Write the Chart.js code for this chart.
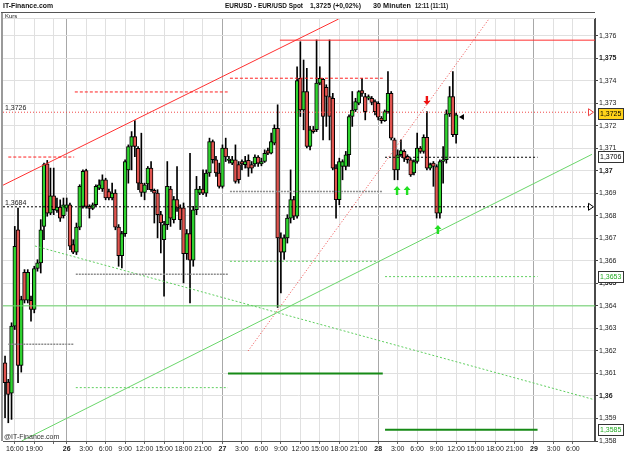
<!DOCTYPE html>
<html><head><meta charset="utf-8">
<script src="https://cdn.jsdelivr.net/npm/chart.js@4/dist/chart.umd.min.js"></script>
<style>html,body{margin:0;padding:0;background:#fff;}canvas{display:block;}</style>
</head><body>
<canvas id="c" width="625" height="455"></canvas>
<script>
// ---- data (half-hour index t, 0 = day 26 00:00) ----
const candleStart = -19;
const opens = [
1.36147,1.36062,1.36012,1.36310,1.36738,1.36136,1.36549,1.36425,1.36425,1.36384,
1.36566,1.36591,1.36753,1.37031,1.36812,1.36889,1.36824,1.36839,1.36801,1.36834,
1.36849,1.36672,1.36638,1.36750,1.36842,1.37001,1.36842,1.36833,1.36849,1.36923,
1.36919,1.36960,1.36908,1.36879,1.36901,1.36750,1.36623,1.36721,1.37004,1.37108,
1.37152,1.37100,1.36945,1.36904,1.36942,1.37012,1.36913,
1.36901,1.36805,1.36694,1.36761,1.36919,1.36783,1.36872,1.36835,1.36835,1.36632,
1.36721,1.36603,1.36827,1.36901,1.36919,1.36901,1.36990,1.37130,1.37049,1.36990,
1.36931,1.37101,1.37046,1.37034,1.37049,1.37027,1.37041,1.37027,1.37046,1.37027,
1.37031,1.37061,1.37031,1.37041,1.37090,1.37078,1.37123,1.37189,1.36702,1.36638,
1.36702,1.36790,1.36872,1.36798,1.37411,1.37270,1.37352,1.37108,
1.37182,1.37182,1.37389,1.37406,1.37371,1.37330,1.37322,1.37012,1.36872,1.37019,
1.37019,1.37071,1.37241,1.37270,1.37300,1.37356,1.37330,1.37322,1.37322,1.37307,
1.37300,1.37234,1.37223,1.37263,1.37344,1.37137,1.37004,1.37071,1.37086,1.37064,
1.37049,1.36990,1.37041,1.37101,1.37086,1.37149,1.37012,1.37034,1.37019,1.36812,
1.37041,1.37049,1.37253,1.37330,1.37160];
const highs = [
1.36177,1.36074,1.36325,1.36753,1.36834,1.36443,1.36561,1.36561,1.36443,1.36576,
1.36605,1.36783,1.37034,1.37046,1.37012,1.37012,1.36879,1.36871,1.36879,1.36879,
1.36857,1.36694,1.36768,1.36938,1.37004,1.37007,1.36849,1.36857,1.36938,1.36960,
1.36982,1.36967,1.36919,1.36945,1.36916,1.36761,1.36731,1.37049,1.37115,1.37174,
1.37223,1.37108,1.37167,1.36945,1.37019,1.37041,1.36919,
1.36916,1.36820,1.36775,1.37041,1.36931,1.36886,1.37019,1.36849,1.36857,1.36739,
1.37078,1.36842,1.36975,1.36931,1.37004,1.37004,1.37145,1.37137,1.37064,1.37034,
1.37115,1.37145,1.37064,1.37064,1.37115,1.37041,1.37049,1.37064,1.37071,1.37041,
1.37071,1.37067,1.37056,1.37093,1.37101,1.37167,1.37204,1.37293,1.36724,1.36716,
1.36805,1.37004,1.36886,1.37462,1.37573,1.37492,1.37455,1.37197,
1.37197,1.37581,1.37462,1.37411,1.37382,1.37581,1.37344,1.37027,1.37056,1.37049,
1.37086,1.37248,1.37352,1.37322,1.37356,1.37411,1.37344,1.37337,1.37330,1.37315,
1.37307,1.37241,1.37270,1.37440,1.37352,1.37145,1.37093,1.37137,1.37093,1.37071,
1.37056,1.37049,1.37167,1.37108,1.37160,1.37263,1.37034,1.37041,1.37027,1.37049,
1.37108,1.37270,1.37374,1.37440,1.37256];
const lows = [
1.35904,1.35881,1.35896,1.36295,1.36059,1.36106,1.36413,1.36413,1.36332,1.36369,
1.36554,1.36546,1.36694,1.36798,1.36805,1.36805,1.36815,1.36775,1.36790,1.36820,
1.36650,1.36632,1.36628,1.36738,1.36834,1.36834,1.36790,1.36827,1.36842,1.36916,
1.36908,1.36871,1.36871,1.36871,1.36738,1.36576,1.36569,1.36709,1.36945,1.37004,
1.37063,1.36916,1.36886,1.36871,1.36916,1.36908,1.36768,
1.36702,1.36635,1.36443,1.36739,1.36753,1.36768,1.36820,1.36739,1.36502,1.36606,
1.36413,1.36576,1.36805,1.36894,1.36894,1.36886,1.36975,1.37034,1.36975,1.36923,
1.36923,1.37041,1.37034,1.37027,1.36945,1.36945,1.37004,1.37012,1.36975,1.36990,
1.37019,1.37019,1.37022,1.37037,1.37071,1.37075,1.37115,1.36393,1.36458,1.36606,
1.36679,1.36768,1.36783,1.36790,1.37241,1.37182,1.37101,1.37093,
1.37167,1.37174,1.37382,1.37137,1.37197,1.37137,1.37004,1.36790,1.36849,1.36960,
1.37004,1.37019,1.37197,1.37263,1.37293,1.37330,1.37226,1.37315,1.37293,1.37248,
1.37226,1.37211,1.37219,1.37256,1.37137,1.36960,1.36960,1.37064,1.37041,1.37034,
1.36975,1.36982,1.37034,1.37078,1.37078,1.37004,1.37004,1.36931,1.36790,1.36790,
1.36945,1.37034,1.37241,1.37152,1.37123];
const closes = [
1.36059,1.36007,1.36310,1.36665,1.36136,1.36428,1.36425,1.36549,1.36384,1.36566,
1.36591,1.36738,1.37027,1.36812,1.36889,1.36827,1.36839,1.36790,1.36849,1.36849,
1.36665,1.36638,1.36750,1.36931,1.36997,1.36842,1.36833,1.36849,1.36931,1.36938,
1.36960,1.36879,1.36879,1.36901,1.36750,1.36623,1.36721,1.37041,1.37108,1.37152,
1.37108,1.36945,1.36904,1.36938,1.37012,1.36916,1.36901,
1.36805,1.36768,1.36761,1.36931,1.36790,1.36872,1.36835,1.36783,1.36632,1.36721,
1.36603,1.36827,1.36919,1.36919,1.36901,1.36990,1.37130,1.37049,1.36990,1.36931,
1.37101,1.37061,1.37052,1.37049,1.36953,1.36960,1.37031,1.37041,1.37012,1.37012,
1.37061,1.37034,1.37041,1.37078,1.37078,1.37130,1.37189,1.36702,1.36638,1.36702,
1.36790,1.36872,1.36798,1.37400,1.37270,1.37352,1.37108,1.37182,
1.37174,1.37389,1.37411,1.37241,1.37330,1.37241,1.37012,1.36872,1.37041,1.37041,
1.37071,1.37241,1.37270,1.37307,1.37352,1.37344,1.37263,1.37330,1.37303,1.37263,
1.37238,1.37223,1.37263,1.37344,1.37145,1.37004,1.37071,1.37090,1.37056,1.37049,
1.36982,1.37041,1.37101,1.37086,1.37149,1.37012,1.37027,1.37019,1.36812,1.37041,
1.37049,1.37253,1.37330,1.37160,1.37248];

const xTickValues = [-16,-10,-4,0,6,12,18,24,30,36,42,48,54,60,66,72,78,84,90,96,102,108,114,120,126,132,138,144,150,156];
const xTickLabels = ['16:00','19:00','','26','3:00','6:00','9:00','12:00','15:00','18:00','21:00','27','3:00','6:00','9:00','12:00','15:00','18:00','21:00','28','3:00','6:00','9:00','12:00','15:00','18:00','21:00','29','3:00','6:00'];
const dayTicks = [0,48,96,144];
const yTicks = [1.358,1.359,1.360,1.361,1.362,1.363,1.364,1.365,1.366,1.367,1.368,1.369,1.370,1.371,1.372,1.373,1.374,1.375,1.376];

// drawn analysis lines: [t1, price1, t2, price2]
const redSolidLines = [[65.7,1.3758,162.8,1.3758],[-19.63,1.36936,83.8,1.37674]];
const redDashedLines = [[2.5,1.3735,49.6,1.3735],[50.3,1.37411,97.4,1.37411],[-18,1.37061,2.3,1.37061]];
const redDottedLines = [[-19.63,1.3726,161.3,1.3726],[55.9,1.362,130.1,1.37674]];
const blackDottedLines = [[-19.63,1.3684,161.3,1.3684],[98.1,1.3706,145.1,1.3706]];
const greyDashedLines = [[50.3,1.36908,97.4,1.36908],[2.8,1.36541,49.7,1.36541],[-18,1.3623,2.3,1.3623]];
const greenSolidLines = [[-19.63,1.364,162.8,1.364],[-13.9,1.358,161.87,1.37073]];
const greenDashedLines = [[-9.77,1.36666,162.2,1.35985],[50.3,1.36598,97,1.36598],[2.8,1.36037,49.7,1.36037],[98.1,1.3653,145.1,1.3653]];
const darkGreenLines = [[49.7,1.361,97.4,1.361],[98.1,1.3585,145.1,1.3585]];

const upArrowT = [101.8,104.9,114.4];
const upArrowP = [1.3691,1.3691,1.36737];
const downArrowT = [111.0];
const downArrowP = [1.37314];
const lastMarker = [121.8,1.37239];
const leftLabels = ['1,3726','1,3684'];
const leftLabelP = [1.3726,1.3684];
const edgeMarkerP = [1.3726,1.3684];
const edgeMarkerColor = ['#ee4444','#000000'];
const boxLabels = ['1,3725','1,3706','1,3653','1,3585'];
const boxP = [1.3725,1.3706,1.3653,1.3585];
const boxFill = ['#ffd21a','#ffffff','#ffffff','#ffffff'];
const boxText = ['#000000','#000000','#22aa22','#22aa22'];

// ---- build datasets ----
const GREEN = '#2fd42f', RED = '#e0544f';
const FONT = "'Liberation Sans', Arial, sans-serif";
const times = opens.map((o,i)=>candleStart+i);
const bodyData = times.map((t,i)=>({x:t, y:[opens[i], closes[i]]}));
const wickData = times.map((t,i)=>({x:t, y:[lows[i], highs[i]]}));
const bodyColors = times.map((t,i)=> closes[i] >= opens[i] ? GREEN : RED);

function lineSets(arr, color, width, dash){
  return arr.map(a=>({type:'line', data:[{x:a[0],y:a[1]},{x:a[2],y:a[3]}], borderColor:color, borderWidth:width,
    borderDash:dash, pointRadius:0, fill:false, order:0, tension:0}));
}
const datasets = [
  {type:'bar', data:wickData, backgroundColor:'#000', barThickness:1, grouped:false, order:3, borderWidth:0},
  {type:'bar', data:bodyData, backgroundColor:bodyColors, borderColor:'#000', borderWidth:1, borderSkipped:false,
    barThickness:3.8, grouped:false, order:2, minBarLength:1},
  ...lineSets(greyDashedLines,'#8c8c8c',1.5,[2,1]),
  ...lineSets(greenDashedLines,'#5fcf5f',1,[2,2]),
  ...lineSets(greenSolidLines,'#6ad66a',1,[]),
  ...lineSets(darkGreenLines,'#168a16',2,[]),
  ...lineSets(redDashedLines,'#ff2020',1,[3,2]),
  ...lineSets(redDottedLines,'#f04848',1,[1,2]),
  ...lineSets(redSolidLines,'#ff3030',1,[]),
  ...lineSets(blackDottedLines,'#000',1,[2,2])
];

function fitText(ctx, txt, x, y, w){
  const m = ctx.measureText(txt).width;
  ctx.save(); ctx.translate(x,y); if (w && m>0) ctx.scale(w/m,1); ctx.fillText(txt,0,0); ctx.restore();
}

const overlay = {
  id:'overlay',
  beforeDraw(chart){
    const ctx = chart.ctx;
    ctx.save(); ctx.fillStyle='#fff'; ctx.fillRect(0,0,chart.width,chart.height); ctx.restore();
  },
  afterDatasetsDraw(chart){
    const ctx = chart.ctx, xs = chart.scales.x, ys = chart.scales.y, a = chart.chartArea;
    ctx.save();
    ctx.fillStyle = '#22e022';
    upArrowT.forEach((t,i)=>{
      const x = xs.getPixelForValue(t), y = ys.getPixelForValue(upArrowP[i]);
      ctx.beginPath(); ctx.moveTo(x, y-5); ctx.lineTo(x+3.5, y-1); ctx.lineTo(x+1.2, y-1); ctx.lineTo(x+1.2, y+4);
      ctx.lineTo(x-1.2, y+4); ctx.lineTo(x-1.2, y-1); ctx.lineTo(x-3.5, y-1); ctx.closePath(); ctx.fill();
    });
    ctx.fillStyle = '#ee1111';
    downArrowT.forEach((t,i)=>{
      const x = xs.getPixelForValue(t), y = ys.getPixelForValue(downArrowP[i]);
      ctx.beginPath(); ctx.moveTo(x, y+5); ctx.lineTo(x+3.5, y+1); ctx.lineTo(x+1.2, y+1); ctx.lineTo(x+1.2, y-4);
      ctx.lineTo(x-1.2, y-4); ctx.lineTo(x-1.2, y+1); ctx.lineTo(x-3.5, y+1); ctx.closePath(); ctx.fill();
    });
    {
      const x = xs.getPixelForValue(lastMarker[0]), y = ys.getPixelForValue(lastMarker[1]);
      ctx.fillStyle='#000'; ctx.beginPath(); ctx.moveTo(x-3,y); ctx.lineTo(x+2,y-3); ctx.lineTo(x+2,y+3); ctx.closePath(); ctx.fill();
    }
    edgeMarkerP.forEach((p,i)=>{
      const y = ys.getPixelForValue(p), x = a.right-7;
      ctx.strokeStyle = edgeMarkerColor[i]; ctx.lineWidth=1; ctx.fillStyle='#fff';
      ctx.beginPath(); ctx.moveTo(x+0.5,y-3.5); ctx.lineTo(x+5.5,y); ctx.lineTo(x+0.5,y+3.5); ctx.closePath(); ctx.fill(); ctx.stroke();
    });
    ctx.fillStyle='#222'; ctx.font = '7px '+FONT; ctx.textBaseline='alphabetic';
    leftLabels.forEach((s,i)=>{ const y = ys.getPixelForValue(leftLabelP[i]); ctx.fillText(s, 5, y-2); });
    ctx.fillStyle='#333'; ctx.font='7px '+FONT;
    ctx.fillText('@IT-Finance.com', 4, a.bottom-2);
    ctx.restore();
  },
  afterDraw(chart){
    const ctx = chart.ctx, ys = chart.scales.y, a = chart.chartArea;
    ctx.save();
    ctx.strokeStyle='#9a9a9a'; ctx.lineWidth=2;
    ctx.beginPath(); ctx.moveTo(2, 12); ctx.lineTo(2, a.bottom); ctx.stroke();
    ctx.strokeStyle='#555'; ctx.lineWidth=1;
    ctx.beginPath(); ctx.moveTo(1, 12.5); ctx.lineTo(a.right, 12.5); ctx.stroke();
    ctx.strokeStyle='#ddd';
    ctx.beginPath(); ctx.moveTo(3, a.top-0.5); ctx.lineTo(a.right, a.top-0.5); ctx.stroke();
    ctx.fillStyle='#222'; ctx.font='6px '+FONT; ctx.textBaseline='middle';
    ctx.fillText('Kurs', 5, 16);
    ctx.fillStyle='#111'; ctx.font='bold 8px '+FONT; ctx.textBaseline='middle';
    fitText(ctx,'IT-Finance.com', 3, 6, 50);
    fitText(ctx,'EURUSD - EUR/USD Spot', 225, 6, 78);
    fitText(ctx,'1,3725 (+0,02%)', 310, 6, 51);
    fitText(ctx,'30 Minuten', 373, 6, 38);
    fitText(ctx,'12:11 (11:11)', 415, 6, 33);
    ctx.font='7px '+FONT; ctx.textBaseline='middle';
    boxP.forEach((p,i)=>{
      const y = Math.round(ys.getPixelForValue(p));
      ctx.fillStyle = boxFill[i]; ctx.fillRect(598.5, y-5.5, 25, 11);
      ctx.strokeStyle = '#333'; ctx.lineWidth=1; ctx.strokeRect(598.5, y-5.5, 25, 11);
      ctx.fillStyle = boxText[i]; ctx.fillText(boxLabels[i], 600, y+0.5);
    });
    ctx.restore();
  }
};

new Chart(document.getElementById('c'), {
  type:'bar',
  data:{datasets},
  plugins:[overlay],
  options:{
    responsive:false, animation:false, events:[],
    layout:{padding:{left:3, top:19, right:0, bottom:0}},
    plugins:{legend:{display:false}, tooltip:{enabled:false}, title:{display:false}},
    scales:{
      x:{type:'linear', min:-19.63, max:162.8, offset:false,
        afterBuildTicks:(s)=>{ s.ticks = xTickValues.map(v=>({value:v})); },
        afterFit:(s)=>{ s.height = 14; },
        grid:{offset:false, color:(c)=> (c.tick && dayTicks.includes(c.tick.value)) ? '#a8a8a8' : '#e0e0e0',
          lineWidth:1, drawTicks:true, tickLength:3, tickColor:'#666'},
        border:{display:true, color:'#555', width:1},
        ticks:{autoSkip:false, maxRotation:0, padding:1, color:'#222',
          callback:(v,i)=> xTickLabels[i],
          font:(c)=>({family:FONT, size:7, weight: (c.tick && dayTicks.includes(c.tick.value)) ? 'bold':'normal'})}
      },
      y:{type:'linear', position:'right', min:1.358, max:1.37674,
        afterBuildTicks:(s)=>{ s.ticks = yTicks.map(v=>({value:v})); },
        afterFit:(s)=>{ s.width = 30; },
        grid:{color:'#e0e0e0', lineWidth:1, drawTicks:true, tickLength:3, tickColor:'#444'},
        border:{display:true, color:'#4a4a4a', width:2},
        ticks:{padding:1, color:'#222',
          callback:(v)=> String(Number(v.toFixed(3))).replace('.',','),
          font:(c)=>({family:FONT, size:7, weight: (c.tick && Math.abs(Math.round(c.tick.value*1000)%5)===0) ? 'bold':'normal'})}
      }
    }
  }
});
</script>
</body></html>
